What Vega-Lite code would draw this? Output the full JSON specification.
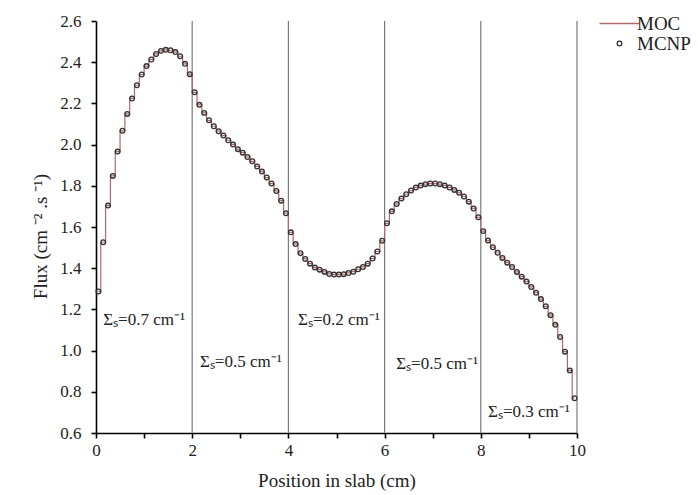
{
  "$schema": "https://vega.github.io/schema/vega-lite/v6.json",
  "width": 481,
  "height": 412,
  "autosize": "none",
  "padding": {"left": 96, "top": 21, "right": 121, "bottom": 62},
  "background": "white",
  "config": {
    "view": {"stroke": null},
    "font": "Liberation Serif",
    "axis": {
      "labelFont": "Liberation Serif",
      "titleFont": "Liberation Serif",
      "labelFontSize": 17,
      "titleFontSize": 19,
      "titleFontWeight": "normal",
      "labelColor": "#222",
      "titleColor": "#222",
      "domainColor": "#000",
      "domainWidth": 1.6,
      "tickColor": "#000",
      "tickWidth": 1.6,
      "tickSize": 5,
      "grid": false
    },
    "legend": {
      "labelFont": "Liberation Serif",
      "labelFontSize": 19,
      "labelColor": "#222"
    }
  },
  "datasets": {
    "flux": [
      {"x":0.05,"flux":1.287},{"x":0.15,"flux":1.526},{"x":0.25,"flux":1.704},{"x":0.35,"flux":1.848},{"x":0.45,"flux":1.966},
      {"x":0.55,"flux":2.067},{"x":0.65,"flux":2.149},{"x":0.75,"flux":2.224},{"x":0.85,"flux":2.288},{"x":0.95,"flux":2.340},
      {"x":1.05,"flux":2.381},{"x":1.15,"flux":2.413},{"x":1.25,"flux":2.440},{"x":1.35,"flux":2.455},{"x":1.45,"flux":2.460},
      {"x":1.55,"flux":2.458},{"x":1.65,"flux":2.449},{"x":1.75,"flux":2.429},{"x":1.85,"flux":2.392},{"x":1.95,"flux":2.342},
      {"x":2.05,"flux":2.254},{"x":2.15,"flux":2.193},{"x":2.25,"flux":2.154},{"x":2.35,"flux":2.118},{"x":2.45,"flux":2.089},
      {"x":2.55,"flux":2.065},{"x":2.65,"flux":2.044},{"x":2.75,"flux":2.021},{"x":2.85,"flux":2.000},{"x":2.95,"flux":1.978},
      {"x":3.05,"flux":1.961},{"x":3.15,"flux":1.940},{"x":3.25,"flux":1.919},{"x":3.35,"flux":1.894},{"x":3.45,"flux":1.869},
      {"x":3.55,"flux":1.840},{"x":3.65,"flux":1.811},{"x":3.75,"flux":1.775},{"x":3.85,"flux":1.728},{"x":3.95,"flux":1.667},
      {"x":4.05,"flux":1.574},{"x":4.15,"flux":1.517},{"x":4.25,"flux":1.473},{"x":4.35,"flux":1.445},{"x":4.45,"flux":1.422},
      {"x":4.55,"flux":1.403},{"x":4.65,"flux":1.393},{"x":4.75,"flux":1.382},{"x":4.85,"flux":1.372},{"x":4.95,"flux":1.369},
      {"x":5.05,"flux":1.369},{"x":5.15,"flux":1.371},{"x":5.25,"flux":1.377},{"x":5.35,"flux":1.383},{"x":5.45,"flux":1.395},
      {"x":5.55,"flux":1.406},{"x":5.65,"flux":1.422},{"x":5.75,"flux":1.447},{"x":5.85,"flux":1.481},{"x":5.95,"flux":1.533},
      {"x":6.05,"flux":1.618},{"x":6.15,"flux":1.676},{"x":6.25,"flux":1.712},{"x":6.35,"flux":1.738},{"x":6.45,"flux":1.759},
      {"x":6.55,"flux":1.777},{"x":6.65,"flux":1.792},{"x":6.75,"flux":1.801},{"x":6.85,"flux":1.808},{"x":6.95,"flux":1.811},
      {"x":7.05,"flux":1.811},{"x":7.15,"flux":1.808},{"x":7.25,"flux":1.801},{"x":7.35,"flux":1.792},{"x":7.45,"flux":1.780},
      {"x":7.55,"flux":1.766},{"x":7.65,"flux":1.748},{"x":7.75,"flux":1.723},{"x":7.85,"flux":1.690},{"x":7.95,"flux":1.647},
      {"x":8.05,"flux":1.580},{"x":8.15,"flux":1.535},{"x":8.25,"flux":1.502},{"x":8.35,"flux":1.475},{"x":8.45,"flux":1.450},
      {"x":8.55,"flux":1.427},{"x":8.65,"flux":1.406},{"x":8.75,"flux":1.382},{"x":8.85,"flux":1.359},{"x":8.95,"flux":1.335},
      {"x":9.05,"flux":1.309},{"x":9.15,"flux":1.281},{"x":9.25,"flux":1.250},{"x":9.35,"flux":1.215},{"x":9.45,"flux":1.172},
      {"x":9.55,"flux":1.125},{"x":9.65,"flux":1.066},{"x":9.75,"flux":0.995},{"x":9.85,"flux":0.904},{"x":9.95,"flux":0.769}
    ],
    "bounds": [{"x":2},{"x":4},{"x":6},{"x":8},{"x":10}],
    "labels": [
      {"x":0.15,"y":1.15,"t":"Σₛ=0.7 cm⁻¹"},
      {"x":2.16,"y":0.945,"t":"Σₛ=0.5 cm⁻¹"},
      {"x":4.2,"y":1.15,"t":"Σₛ=0.2 cm⁻¹"},
      {"x":6.24,"y":0.935,"t":"Σₛ=0.5 cm⁻¹"},
      {"x":8.15,"y":0.70,"t":"Σₛ=0.3 cm⁻¹"}
    ]
  },
  "layer": [
    {
      "data": {"name": "bounds"},
      "mark": {"type": "rule", "color": "#7a7a7a", "strokeWidth": 1.2},
      "encoding": {
        "x": {"field": "x", "type": "quantitative", "scale": {"domain": [0, 10], "nice": false}}
      }
    },
    {
      "data": {"name": "flux"},
      "mark": {"type": "line", "interpolate": "step", "strokeWidth": 1.2},
      "encoding": {
        "x": {"field": "x", "type": "quantitative", "scale": {"domain": [0, 10], "nice": false},
          "axis": {"values": [0,1,2,3,4,5,6,7,8,9,10], "labelExpr": "datum.value % 2 === 0 ? datum.label : ''", "title": "Position in slab (cm)", "labelPadding": 4, "titlePadding": 13, "labelFlush": false}},
        "y": {"field": "flux", "type": "quantitative", "scale": {"domain": [0.6, 2.6], "nice": false, "zero": false},
          "axis": {"values": [0.6,0.7,0.8,0.9,1.0,1.1,1.2,1.3,1.4,1.5,1.6,1.7,1.8,1.9,2.0,2.1,2.2,2.3,2.4,2.5,2.6], "labelExpr": "round(datum.value*10) % 2 === 0 ? format(datum.value, '.1f') : ''", "title": "Flux (cm ⁻² .s ⁻¹)", "titleY": 215, "labelPadding": 10, "titlePadding": 9, "labelFlush": false, "labelOverlap": false}},
        "color": {"datum": "MOC", "type": "nominal",
          "scale": {"domain": ["MOC", "MCNP"], "range": ["#b06a6a", "#333333"]},
          "legend": {
            "title": null,
            "orient": "none",
            "legendX": 514,
            "legendY": -7,
            "symbolSize": 1600,
            "rowPadding": -2,
            "labelOffset": 8,
            "encode": {
              "symbols": {
                "update": {
                  "shape": {"signal": "datum.value === 'MOC' ? 'stroke' : 'circle'"},
                  "size": {"signal": "datum.value === 'MOC' ? 1600 : 22"},
                  "fill": {"value": "transparent"},
                  "stroke": {"signal": "datum.value === 'MOC' ? '#b06a6a' : '#333333'"},
                  "strokeWidth": {"value": 1.3},
                  "opacity": {"value": 1}
                }
              }
            }
          }
        }
      }
    },
    {
      "data": {"name": "flux"},
      "mark": {"type": "point", "shape": "circle", "filled": false, "size": 22, "strokeWidth": 1.3, "opacity": 1},
      "encoding": {
        "x": {"field": "x", "type": "quantitative"},
        "y": {"field": "flux", "type": "quantitative"},
        "color": {"datum": "MCNP", "type": "nominal"}
      }
    },
    {
      "data": {"name": "labels"},
      "mark": {"type": "text", "align": "left", "baseline": "middle", "fontSize": 17, "font": "Liberation Serif", "color": "#222"},
      "encoding": {
        "x": {"field": "x", "type": "quantitative"},
        "y": {"field": "y", "type": "quantitative"},
        "text": {"field": "t"}
      }
    }
  ]
}
